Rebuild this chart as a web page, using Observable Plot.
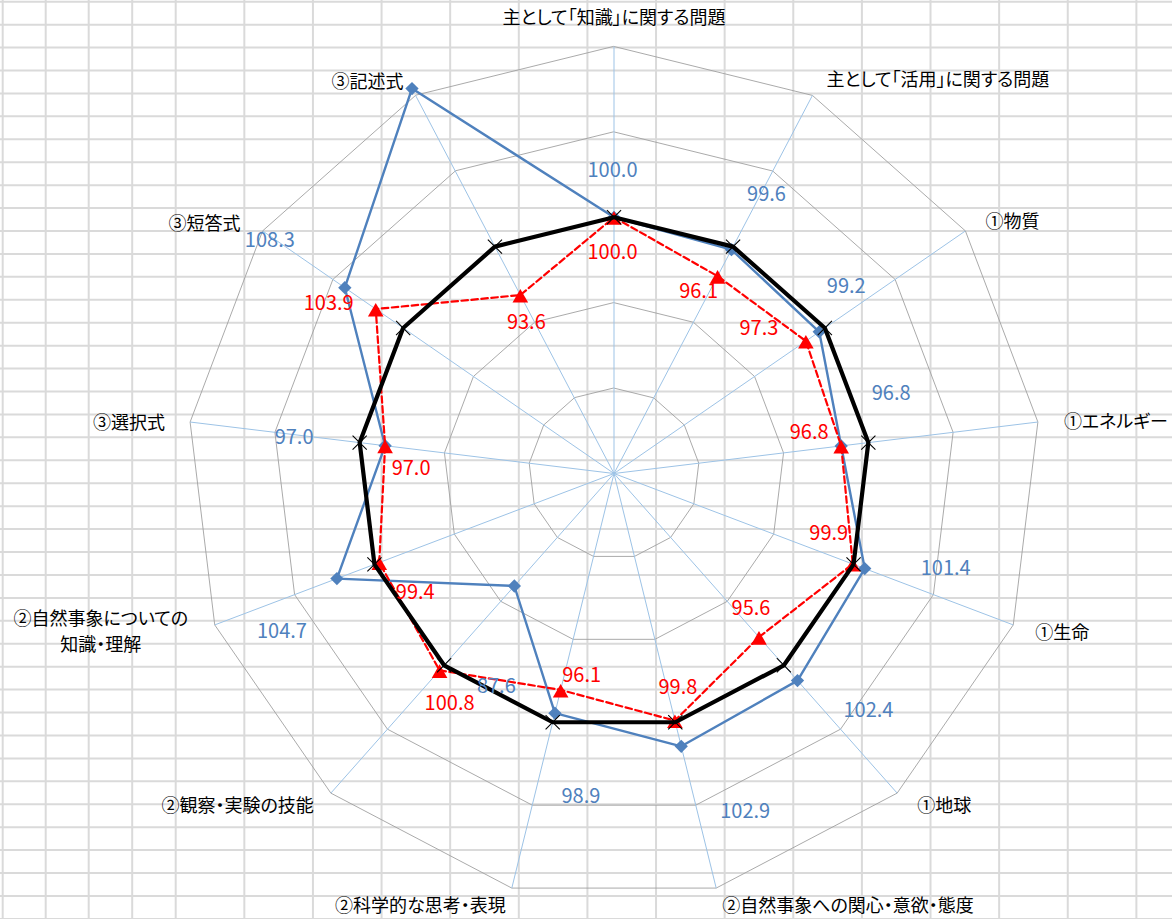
<!DOCTYPE html>
<html>
<head>
<meta charset="utf-8">
<script src="https://cdn.jsdelivr.net/npm/d3@7"></script>
<script src="https://cdn.jsdelivr.net/npm/@observablehq/plot@0.6"></script>
<style>
  html, body { margin: 0; padding: 0; background: #fff; }
  #wrap { position: relative; width: 1172px; height: 919px; overflow: hidden; }
  #bg, #chart { position: absolute; left: 0; top: 0; }
  #chart svg { background: transparent; }
  #chart svg text { font-feature-settings: "palt"; }
</style>
</head>
<body>
<div id="wrap"><svg id="bg" width="1172" height="919"></svg><div id="chart"></div></div>
<script>
// ---------------- data ----------------
const categories = [
  "主として「知識」に関する問題",
  "主として「活用」に関する問題",
  "①物質",
  "①エネルギー",
  "①生命",
  "①地球",
  "②自然事象への関心・意欲・態度",
  "②科学的な思考・表現",
  "②観察・実験の技能",
  "②自然事象についての\n知識・理解",
  "③選択式",
  "③短答式",
  "③記述式"
];
const blueValues = [100.0, 99.6, 99.2, 96.8, 101.4, 102.4, 102.9, 98.9, 87.6, 104.7, 97.0, 108.3, 120.9];
const redValues  = [100.0, 96.1, 97.3, 96.8, 99.9, 95.6, 99.8, 96.1, 100.8, 99.4, 97.0, 103.9, 93.6];
const baseValues = [100, 100, 100, 100, 100, 100, 100, 100, 100, 100, 100, 100, 100];
const axisTicks  = [70, 80, 90, 100, 110, 120];

// ---------------- layout (pixels) ----------------
const W = 1172, H = 919;
const cx = 613.5, cy = 473, pxPerUnit = 8.54;
const blueLabelOffsets = [[-1.5,-47],[35,-55],[27,-45],[50,-52],[81,0],[71,30],[64,65],[26,83],[-18,101],[-55,53],[-91,-8],[-75,-47], null];
const redLabelOffsets  = [[-1.5,35],[-19,15],[-47,-12],[-32,-13],[-24,-30],[-8,-29],[3,-33],[21,-14],[10,33],[36,30],[26,23],[-47,-5],[6,28]];
const catAnchors = ["middle","start","start","start","start","start","start","end","end","middle","end","end","end"];
const catOffsets = [[0,-28],[14,-15],[20,-9],[26,0.5],[22,8],[20,13],[6,18],[-6,18],[-17,13],[-114,7],[-25,1.5],[-22,-7],[-12,-13]];
const catLineGap = 26;

// ---------------- background worksheet grid ----------------
(function drawSheet() {
  const bg = d3.select("#bg");
  const cols = [2.7, 45.7, 88.7, 132.2];
  for (let x = 175.7; x < W + 2; x += 68.62) cols.push(x);
  const rows = [];
  for (let y = 1.7; y < H + 2; y += 22.93) rows.push(y);
  bg.selectAll("line.r").data(rows).join("line").attr("class","r").attr("x1", 0).attr("x2", W)
    .attr("y1", d => d).attr("y2", d => d).attr("stroke", "#dadada").attr("stroke-width", 2);
  bg.selectAll("line.c").data(cols).join("line").attr("class","c").attr("y1", 0).attr("y2", H)
    .attr("x1", d => d).attr("x2", d => d).attr("stroke", "#dadada").attr("stroke-width", 2);
})();

// ---------------- geometry helpers ----------------
const n = categories.length;
const rMin = axisTicks[0], rMax = axisTicks[axisTicks.length - 1];
const theta = k => 2 * Math.PI * k / n;
const polar = (k, v) => ({x: (v - rMin) * Math.sin(theta(k)), y: (v - rMin) * Math.cos(theta(k))});
const shift = (p, off) => ({x: p.x + off[0] / pxPerUnit, y: p.y - off[1] / pxPerUnit});

const rings = axisTicks.slice(1).flatMap(level =>
  categories.map((c, k) => ({level, ...polar(k, level)})));
const spokes = categories.map((c, k) => ({x1: 0, y1: 0, x2: polar(k, rMax).x, y2: polar(k, rMax).y}));
const series = vals => vals.map((v, k) => ({k, v, ...polar(k, v)}));
const bluePts = series(blueValues);
const redPts = series(redValues);
const basePts = series(baseValues);

const blueLabels = bluePts.filter(d => blueLabelOffsets[d.k])
  .map(d => ({text: d.v.toFixed(1), ...shift(d, blueLabelOffsets[d.k])}));
const redLabels = redPts.map(d => ({text: d.v.toFixed(1), ...shift(d, redLabelOffsets[d.k])}));
// split multi-line category names into separate, vertically stacked lines
const catLabels = categories.flatMap((c, k) => {
  const lines = c.split("\n");
  return lines.map((line, i) => {
    const off = [catOffsets[k][0], catOffsets[k][1] + (i - (lines.length - 1) / 2) * catLineGap];
    return {text: line, anchor: catAnchors[k], ...shift(polar(k, rMax), off)};
  });
});

const font = "'Noto Sans CJK JP', 'Noto Sans', sans-serif";
const blue = "#4f81bd";

const chart = Plot.plot({
  width: W, height: H,
  margin: 0,
  style: {background: "transparent", fontFamily: font},
  x: {domain: [(0 - cx) / pxPerUnit, (W - cx) / pxPerUnit], range: [0, W], axis: null},
  y: {domain: [-(H - cy) / pxPerUnit, cy / pxPerUnit], range: [H, 0], axis: null},
  marks: [
    Plot.line(rings, {x: "x", y: "y", z: "level", curve: "linear-closed", stroke: "#a0a0a0", strokeWidth: 0.9}),
    Plot.link(spokes, {x1: "x1", y1: "y1", x2: "x2", y2: "y2", stroke: "#9dc3e6", strokeWidth: 1}),
    Plot.line(bluePts, {x: "x", y: "y", curve: "linear-closed", stroke: blue, strokeWidth: 2.4}),
    Plot.dot(bluePts, {x: "x", y: "y", symbol: "diamond2", fill: blue, stroke: "none", r: 6}),
    Plot.line(redPts, {x: "x", y: "y", curve: "linear-closed", stroke: "#ff0000", strokeWidth: 2.2, strokeDasharray: "6.5,3.5"}),
    Plot.dot(redPts, {x: "x", y: "y", symbol: "triangle", fill: "#ff0000", stroke: "none", r: 5.8, dy: 3}),
    Plot.line(basePts, {x: "x", y: "y", curve: "linear-closed", stroke: "#000", strokeWidth: 4.2}),
    Plot.dot(basePts, {x: "x", y: "y", symbol: "times", stroke: "#000", strokeWidth: 1.1, r: 6.5}),
    Plot.text(blueLabels, {x: "x", y: "y", text: "text", fill: blue, fontSize: 20, textAnchor: "middle"}),
    Plot.text(redLabels, {x: "x", y: "y", text: "text", fill: "#ff0000", fontSize: 20, textAnchor: "middle"}),
    Plot.text(catLabels.filter(d => d.anchor === "start"), {x: "x", y: "y", text: "text", fill: "#000", fontSize: 18, textAnchor: "start"}),
    Plot.text(catLabels.filter(d => d.anchor === "end"), {x: "x", y: "y", text: "text", fill: "#000", fontSize: 18, textAnchor: "end"}),
    Plot.text(catLabels.filter(d => d.anchor === "middle"), {x: "x", y: "y", text: "text", fill: "#000", fontSize: 18, textAnchor: "middle"})
  ]
});
document.getElementById("chart").appendChild(chart);
</script>
</body>
</html>
